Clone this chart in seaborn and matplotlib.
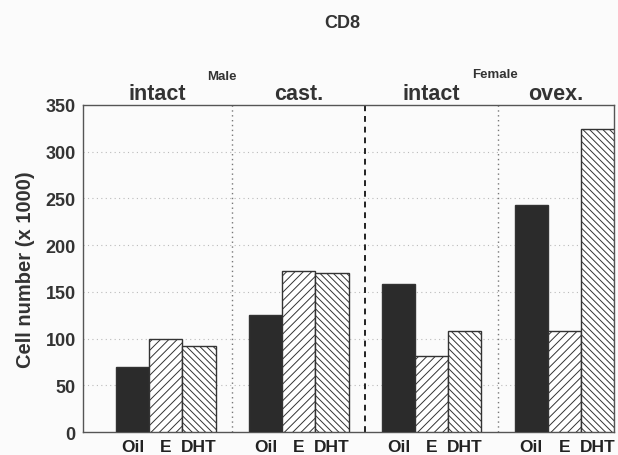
import numpy as np
import pandas as pd
import seaborn as sns
import matplotlib.pyplot as plt

# data (cells x 1000)
groups = ['Male intact', 'Male cast.', 'Female intact', 'Female ovex.']
group_labels = ['intact', 'cast.', 'intact', 'ovex.']
treatments = ['Oil', 'E', 'DHT']
oil = [70, 125, 158, 243]
estr = [100, 172, 81, 108]
dht = [92, 170, 108, 324]

sns.set_theme(style='white')
plt.rcParams['font.family'] = ['Liberation Sans', 'DejaVu Sans']
plt.rcParams['font.weight'] = 'bold'
plt.rcParams['hatch.linewidth'] = 0.7

rows = []
for g, name in enumerate(groups):
    for t, tr in enumerate(treatments):
        val = [oil, estr, dht][t][g]
        rows.append({'group': name, 'treatment': tr,
                     'pos': 4 * g + t + 1.5, 'cells': val})
df = pd.DataFrame(rows)

fig = plt.figure(figsize=(6.18, 4.56), dpi=100)
fig.patch.set_facecolor('#fbfbfb')
ax = fig.add_axes([0.134, 0.050, 0.860, 0.718])
ax.set_facecolor('#fbfbfb')

sns.barplot(data=df, x='pos', y='cells', hue='treatment',
            hue_order=treatments,
            palette={'Oil': '#2b2b2b', 'E': 'white', 'DHT': 'white'},
            native_scale=True, dodge=False, width=1.0,
            edgecolor='#333333', linewidth=1.0, legend=False,
            zorder=3, ax=ax)

hatches = {'Oil': '', 'E': '////', 'DHT': '\\\\\\\\\\'}
for cont, tr in zip(ax.containers, treatments):
    for p in cont:
        p.set_hatch(hatches[tr])

ax.set_xlim(0, 16)
ax.set_ylim(0, 350)
ax.set_yticks(range(0, 351, 50))
ax.tick_params(axis='y', labelsize=13, colors='#333333', length=0, pad=5)
for y in range(50, 301, 50):
    ax.axhline(y, color='#bbbbbb', linestyle=(0, (1, 3)), linewidth=0.8, zorder=1)

# separators between groups
ax.axvline(4.5, color='#777777', linestyle=(0, (1, 2.5)), linewidth=1.0, zorder=2)
ax.axvline(8.5, color='#222222', linestyle=(0, (3, 2.5)), linewidth=1.4, zorder=2)
ax.axvline(12.5, color='#777777', linestyle=(0, (1, 2.5)), linewidth=1.0, zorder=2)

ax.set_xticks(df['pos'])
ax.set_xticklabels(df['treatment'], fontsize=12.5, color='#222222')
ax.tick_params(axis='x', length=0, pad=5)
ax.set_xlabel('')
ax.set_ylabel('Cell number (x 1000)', fontsize=14.5, fontweight='bold',
              color='#333333', labelpad=8)

for s in ax.spines.values():
    s.set_color('#555555')
    s.set_linewidth(1.0)

# group headers
centers = [2.25, 6.5, 10.5, 14.25]
for c, lab in zip(centers, group_labels):
    ax.text(c, 351, lab, ha='center', va='bottom', fontsize=15.5,
            fontweight='bold', color='#333333')
ax.text(4.2, 374, 'Male', ha='center', va='bottom', fontsize=9.5,
        fontweight='bold', color='#333333')
ax.text(12.4, 376, 'Female', ha='center', va='bottom', fontsize=9.5,
        fontweight='bold', color='#333333')

fig.text(0.553, 0.948, 'CD8', ha='center', va='center', fontsize=13,
         fontweight='bold', color='#333333')

fig.savefig('out.png', dpi=100, facecolor=fig.get_facecolor())
